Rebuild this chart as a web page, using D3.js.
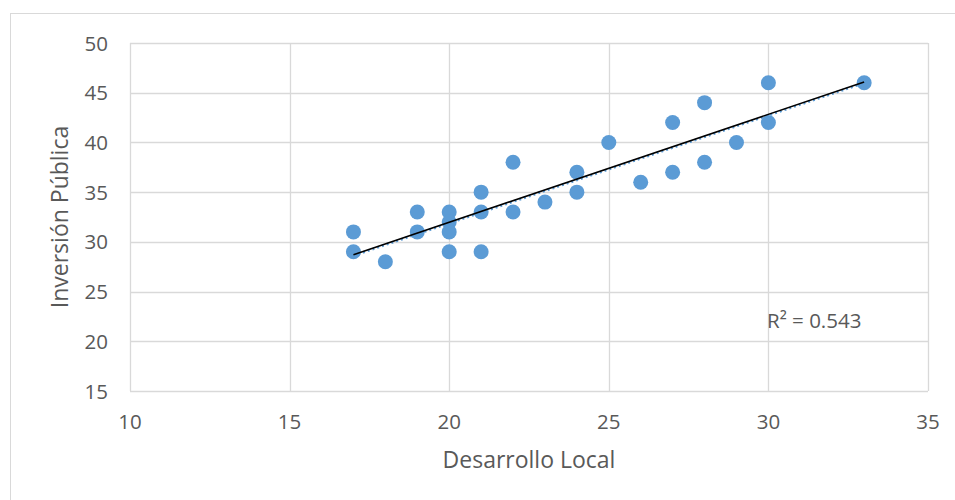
<!DOCTYPE html>
<html>
<head>
<meta charset="utf-8">
<script src="https://cdn.jsdelivr.net/npm/d3@7"></script>
<style>
  body { margin: 0; background: #fff; }
  text { font-family: "Open Sans", "Noto Sans", sans-serif; fill: #595959; }
</style>
</head>
<body>
<svg id="chart" width="955" height="500"></svg>
<script>
const WIDTH = 955
const HEIGHT = 500

// desarrollo local (x) vs inversion publica (y)
const desarrollo = [17, 17, 18, 19, 19, 20, 20, 20, 20, 21, 21, 21, 22, 22, 23, 24, 24, 25, 26, 27, 27, 28, 28, 29, 30, 30, 33]
const inversion = [31, 29, 28, 33, 31, 33, 32, 31, 29, 35, 33, 29, 38, 33, 34, 37, 35, 40, 36, 42, 37, 44, 38, 40, 46, 42, 46]
const xTicks = [10, 15, 20, 25, 30, 35]
const yTicks = [15, 20, 25, 30, 35, 40, 45, 50]
const r2Label = 'R² = 0.543'

let padding = { left: 130, right: 27, top: 43, bottom: 109 }

const svg = d3.select('#chart')

// outer chart border
svg.append('rect')
    .attr('x', 10.5)
    .attr('y', 13.5)
    .attr('width', WIDTH)
    .attr('height', HEIGHT)
    .attr('fill', 'none')
    .attr('stroke', '#d9d9d9')

const xAxis = d3.scaleLinear()
    .domain([10, 35])
    .range([padding.left, WIDTH - padding.right])

const yAxis = d3.scaleLinear()
    .domain([15, 50])
    .range([HEIGHT - padding.bottom, padding.top])

// gridlines
svg.append('g')
    .selectAll('line')
    .data(xTicks)
    .join('line')
    .attr('x1', d => Math.round(xAxis(d)) + 0.5)
    .attr('x2', d => Math.round(xAxis(d)) + 0.5)
    .attr('y1', yAxis(15))
    .attr('y2', yAxis(50))
    .attr('stroke', '#d9d9d9')
    .attr('stroke-width', 1.3)

svg.append('g')
    .selectAll('line')
    .data(yTicks)
    .join('line')
    .attr('x1', xAxis(10))
    .attr('x2', xAxis(35))
    .attr('y1', d => Math.round(yAxis(d)) + 0.5)
    .attr('y2', d => Math.round(yAxis(d)) + 0.5)
    .attr('stroke', '#d9d9d9')
    .attr('stroke-width', 1.3)

// tick labels
svg.append('g')
    .selectAll('text')
    .data(xTicks)
    .join('text')
    .attr('x', d => xAxis(d))
    .attr('y', yAxis(15) + 38)
    .attr('text-anchor', 'middle')
    .style('font-size', '20.5px')
    .text(d => d)

svg.append('g')
    .selectAll('text')
    .data(yTicks)
    .join('text')
    .attr('x', padding.left - 22)
    .attr('y', d => yAxis(d) + 7.5)
    .attr('text-anchor', 'end')
    .style('font-size', '20.5px')
    .text(d => d)

// axis titles
svg.append('text')
    .text('Desarrollo Local')
    .attr('x', (xAxis(10) + xAxis(35)) / 2)
    .attr('y', 468)
    .attr('text-anchor', 'middle')
    .style('font-size', '23px')

svg.append('text')
    .text('Inversión Pública')
    .attr('transform', `translate(68, ${(yAxis(15) + yAxis(50)) / 2}) rotate(-90)`)
    .attr('text-anchor', 'middle')
    .style('font-size', '23px')

// points
svg.append('g')
    .selectAll('circle')
    .data(desarrollo.map((x, i) => [x, inversion[i]]))
    .join('circle')
    .attr('cx', d => xAxis(d[0]))
    .attr('cy', d => yAxis(d[1]))
    .attr('r', 7.5)
    .attr('fill', '#5b9bd5')

// linear trendline (least squares)
let mx = d3.mean(desarrollo)
let my = d3.mean(inversion)
let sxy = d3.sum(desarrollo, (x, i) => (x - mx) * (inversion[i] - my))
let sxx = d3.sum(desarrollo, x => (x - mx) * (x - mx))
let slope = sxy / sxx
let intercept = my - slope * mx
let ends = d3.extent(desarrollo).map(x => [x, intercept + slope * x])

const trend = d3.line()
    .x(d => xAxis(d[0]))
    .y(d => yAxis(d[1]))

svg.append('path')
    .attr('d', trend(ends))
    .attr('fill', 'none')
    .attr('stroke', '#5b9bd5')
    .attr('stroke-width', 2.5)
    .attr('stroke-dasharray', '2 3')
    .attr('transform', 'translate(0, 1)')

svg.append('path')
    .attr('d', trend(ends))
    .attr('fill', 'none')
    .attr('stroke', '#000')
    .attr('stroke-width', 1.6)

svg.append('text')
    .text(r2Label)
    .attr('x', 767)
    .attr('y', 328)
    .style('font-size', '20.5px')
</script>
</body>
</html>
